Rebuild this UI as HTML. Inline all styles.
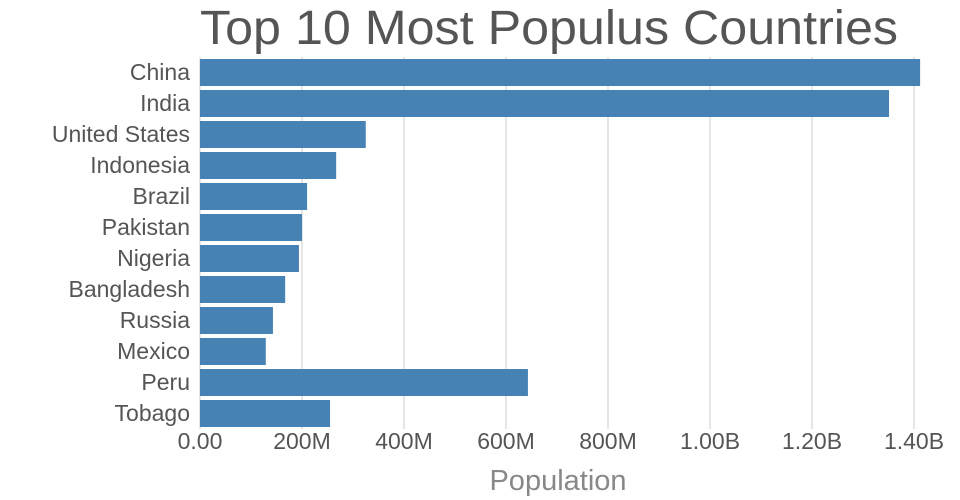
<!DOCTYPE html>
<html><head><meta charset="utf-8"><style>
body{margin:0;background:#fff;font-family:"Liberation Sans",sans-serif}
</style></head><body>
<svg id="chart" width="960" height="500" style="display:block">
<text x="200" y="44" font-size="48" fill="#555" textLength="698" lengthAdjust="spacingAndGlyphs">Top 10 Most Populus Countries</text>
<g id="grid"></g>
<g id="bars"></g>
<g id="ylabels"></g>
<g id="xlabels"></g>
<text x="558" y="490" text-anchor="middle" font-size="29" fill="#888">Population</text>
</svg>
<script>
const categories=["China","India","United States","Indonesia","Brazil","Pakistan","Nigeria","Bangladesh","Russia","Mexico","Peru","Tobago"];
const values=[1412,1351,325,267,210,200,194,167,143,129,643,255];
const ticks=[0,200,400,600,800,1000,1200,1400];
const tickLabels=["0.00","200M","400M","600M","800M","1.00B","1.20B","1.40B"];
const NS="http://www.w3.org/2000/svg";
const x0=200,pxPerM=0.51,plotTop=57,step=31,barH=27;
const xs=v=>x0+v*pxPerM;
const yb=i=>plotTop+i*step;
function mk(tag,attrs,parent){const e=document.createElementNS(NS,tag);for(const k in attrs)e.setAttribute(k,attrs[k]);document.getElementById(parent).appendChild(e);return e;}
ticks.forEach((t,i)=>{
  const l=mk("line",{x1:xs(t),x2:xs(t),y1:plotTop,y2:plotTop+categories.length*step,stroke:"#ccc","stroke-width":1},"grid");
  
  
  const tx=mk("text",{x:xs(t),y:449,"text-anchor":"middle","font-size":23,fill:"#555"},"xlabels");
  tx.textContent=tickLabels[i];
  
  
});
categories.forEach((c,i)=>{
  const r=mk("rect",{x:x0,y:yb(i)+2,width:xs(values[i])-x0,height:barH,fill:"#4682b4"},"bars");
  
  
  const t=mk("text",{x:190,y:yb(i)+23,"text-anchor":"end","font-size":23,fill:"#555"},"ylabels");
  t.textContent=c;
  
  
});
</script>
</body></html>
